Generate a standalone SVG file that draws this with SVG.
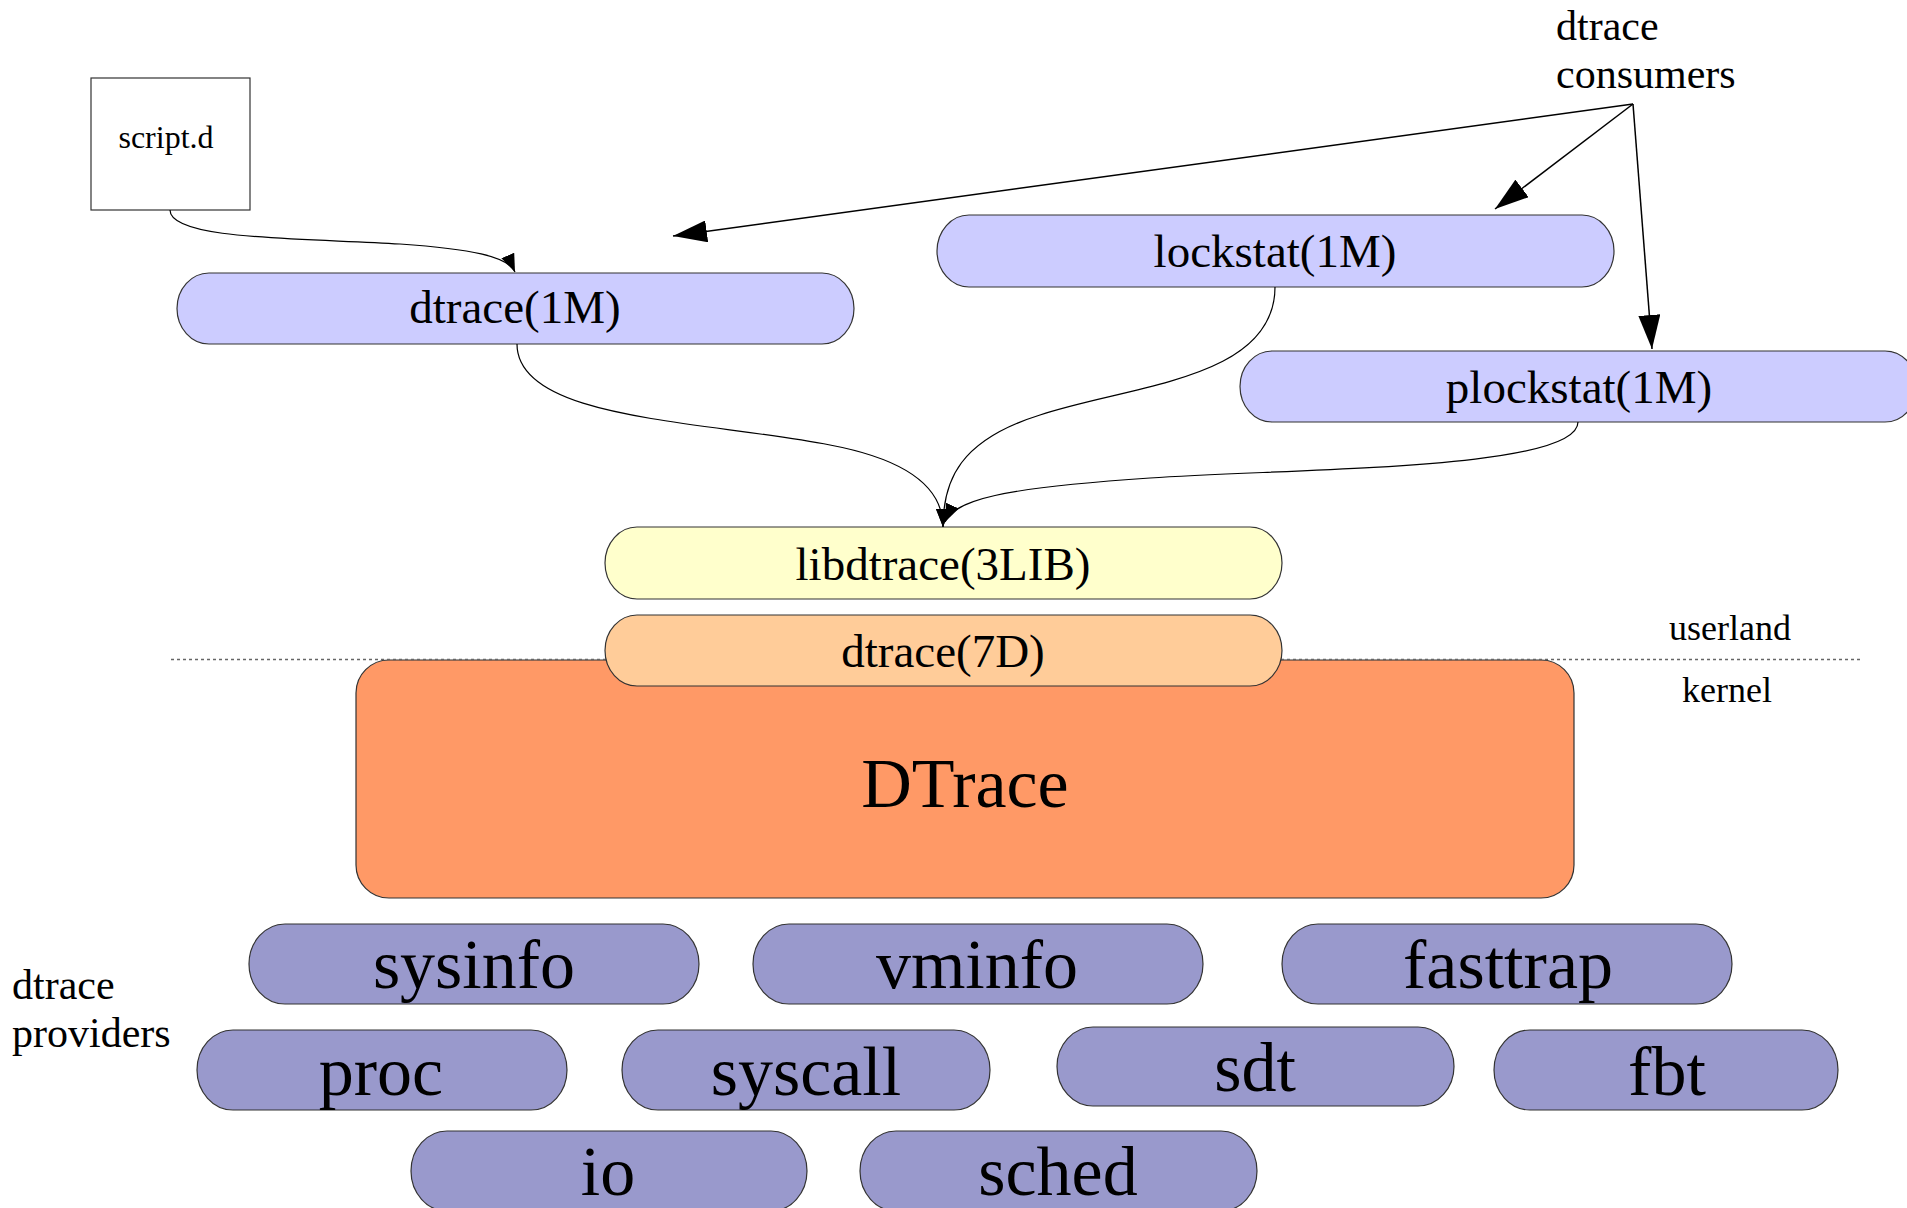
<svg xmlns="http://www.w3.org/2000/svg" width="1907" height="1208" viewBox="0 0 1907 1208">
<style>
text{font-family:"Liberation Serif","Times New Roman",serif;fill:#000;text-anchor:middle}
.pill{stroke:#333;stroke-width:1.2}
.user{fill:#CCCCFF}
.prov{fill:#9999CC}
.t47{font-size:47px}
.t70{font-size:70px}
.lab{font-size:42px;text-anchor:start}
.side{font-size:36px}
.con{fill:none;stroke:#000;stroke-width:1.2}
.big{fill:none;stroke:#000;stroke-width:1.5}
</style>
<defs>
<marker id="ah" viewBox="0 0 34 22" refX="34" refY="11" markerWidth="34" markerHeight="22" markerUnits="userSpaceOnUse" orient="auto"><path d="M0,0 L34,11 L0,22 z" fill="#000"/></marker>
<marker id="as" viewBox="0 0 18 14" refX="18" refY="7" markerWidth="18" markerHeight="14" markerUnits="userSpaceOnUse" orient="auto"><path d="M0,0 L18,7 L0,14 z" fill="#000"/></marker>
</defs>
<rect width="1907" height="1208" fill="#fff"/>

<g id="script">
<rect x="91" y="78" width="159" height="132" fill="#fff" stroke="#333" stroke-width="1.2"/>
<text x="166" y="148" style="font-size:32px">script.d</text>
</g>

<g id="consumers-label">
<text class="lab" x="1556" y="40">dtrace</text>
<text class="lab" x="1556" y="88">consumers</text>
</g>

<g id="dtrace1m">
<rect class="pill user" x="177" y="273" width="677" height="71" rx="32" ry="35.5"/>
<text class="t47" x="515" y="323">dtrace(1M)</text>
</g>
<g id="lockstat">
<rect class="pill user" x="937" y="215" width="677" height="72" rx="32" ry="36"/>
<text class="t47" x="1275" y="267">lockstat(1M)</text>
</g>
<g id="plockstat">
<rect class="pill user" x="1240" y="351" width="677" height="71" rx="32" ry="35.5"/>
<text class="t47" x="1579" y="403">plockstat(1M)</text>
</g>

<g id="libdtrace">
<rect class="pill" fill="#FFFFCC" x="605" y="527" width="677" height="72" rx="32" ry="36"/>
<text class="t47" x="943" y="580">libdtrace(3LIB)</text>
</g>

<g id="dtrace-core">
<rect class="pill" fill="#FF9966" x="356" y="660" width="1218" height="238" rx="33" ry="33"/>
<text class="t70" x="965" y="807">DTrace</text>
</g>

<g id="boundary">
<line x1="171" y1="659.5" x2="1861" y2="659.5" stroke="#666" stroke-width="1.5" stroke-dasharray="3,3"/>
<text class="side" x="1730" y="640">userland</text>
<text class="side" x="1727" y="702">kernel</text>
</g>

<g id="dtrace7d">
<rect class="pill" fill="#FFCC99" x="605" y="615" width="677" height="71" rx="32" ry="35.5"/>
<text class="t47" x="943" y="667">dtrace(7D)</text>
</g>

<g id="providers-label">
<text class="lab" x="12" y="999">dtrace</text>
<text class="lab" x="12" y="1047">providers</text>
</g>

<g id="sysinfo"><rect class="pill prov" x="249" y="924" width="450" height="80" rx="36" ry="40"/><text class="t70" x="474" y="988">sysinfo</text></g>
<g id="vminfo"><rect class="pill prov" x="753" y="924" width="450" height="80" rx="36" ry="40"/><text class="t70" x="977" y="988">vminfo</text></g>
<g id="fasttrap"><rect class="pill prov" x="1282" y="924" width="450" height="80" rx="36" ry="40"/><text class="t70" x="1508" y="988">fasttrap</text></g>
<g id="proc"><rect class="pill prov" x="197" y="1030" width="370" height="80" rx="36" ry="40"/><text class="t70" x="381" y="1095">proc</text></g>
<g id="syscall"><rect class="pill prov" x="622" y="1030" width="368" height="80" rx="36" ry="40"/><text class="t70" x="806" y="1095">syscall</text></g>
<g id="sdt"><rect class="pill prov" x="1057" y="1027" width="397" height="79" rx="36" ry="39.5"/><text class="t70" x="1255" y="1091">sdt</text></g>
<g id="fbt"><rect class="pill prov" x="1494" y="1030" width="344" height="80" rx="36" ry="40"/><text class="t70" x="1667" y="1095">fbt</text></g>
<g id="io"><rect class="pill prov" x="411" y="1131" width="396" height="80" rx="36" ry="40"/><text class="t70" x="608" y="1195">io</text></g>
<g id="sched"><rect class="pill prov" x="860" y="1131" width="397" height="80" rx="36" ry="40"/><text class="t70" x="1058" y="1195">sched</text></g>

<g id="connectors">
<path class="con" d="M170,210 C170,240 300,238 400,244 C470,249 508,256 515,272" marker-end="url(#as)"/>
<path class="con" d="M517,344 C517,420 700,420 830,445 C920,462 943,495 943,527" marker-end="url(#as)"/>
<path class="con" d="M1275,287 C1275,380 1130,385 1040,415 C960,440 943,480 943,527" marker-end="url(#as)"/>
<path class="con" d="M1578,422 C1578,470 1300,468 1150,478 C1000,488 955,500 945,522" marker-end="url(#as)"/>
<line class="big" x1="1633" y1="104" x2="673" y2="236" marker-end="url(#ah)"/>
<line class="big" x1="1633" y1="104" x2="1495" y2="209" marker-end="url(#ah)"/>
<line class="big" x1="1633" y1="104" x2="1652" y2="349" marker-end="url(#ah)"/>
</g>
</svg>
